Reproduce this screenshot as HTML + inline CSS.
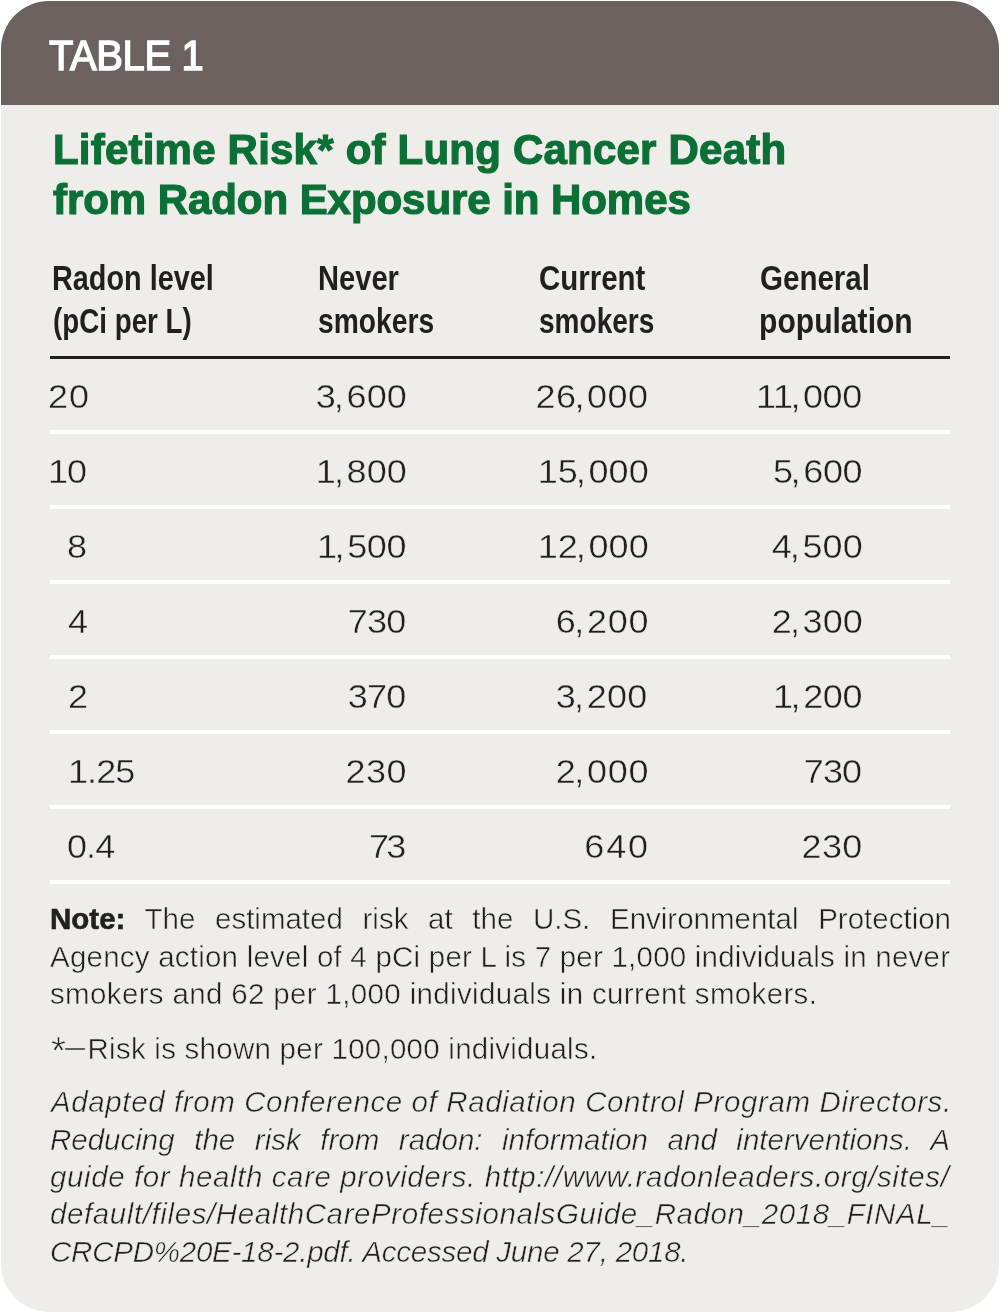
<!DOCTYPE html>
<html><head><meta charset="utf-8"><title>Table 1</title>
<style>
html,body{margin:0;padding:0}
body{width:1001px;height:1314px;background:#fff;position:relative;overflow:hidden;font-family:"Liberation Sans",sans-serif}
.card{position:absolute;left:1px;top:1px;width:998px;height:1311px;border-radius:48px;background:#eeede9;overflow:hidden}
.hdr{position:absolute;left:0;top:0;width:100%;height:104px;background:#6b625f}
.t{position:absolute;white-space:nowrap;line-height:1;transform-origin:0 0}
.r{transform-origin:100% 0}
.tab{color:#fff;font-size:43px;transform:scaleX(0.93);-webkit-text-stroke:1.5px #fff;}
.ttl{color:#0b7035;font-weight:bold;font-size:42px;-webkit-text-stroke:1.2px #0b7035;}
.ch{color:#231f20;font-weight:bold;font-size:34.5px;}
.num{color:#231f20;font-size:34px;letter-spacing:1.3px;-webkit-text-stroke:0.4px #eeede9;transform:scaleX(1.06);}
.cm{letter-spacing:2.5px;margin-left:-2px}
.rule{position:absolute;left:50px;width:900px;height:4px;background:#fff}
.note{color:#231f20;font-size:29.5px;-webkit-text-stroke:0.5px #eeede9;}
.note b{font-weight:bold;-webkit-text-stroke:0.6px #231f20;}
.src{color:#231f20;font-size:29.5px;font-style:italic;-webkit-text-stroke:0.5px #eeede9;}
.ast{display:inline-block;transform:scale(1.3);transform-origin:0 30%}
.dash{display:inline-block;transform:scaleX(.68);transform-origin:0 0;margin-right:-7px;margin-left:2px;position:relative;top:-2px}
.jl{text-align:justify;text-align-last:justify;white-space:normal}
</style></head><body>
<div class="card"><div class="hdr"></div></div>
<div style="position:absolute;left:50px;top:356px;width:900px;height:3px;background:#231f20"></div>
<div class="rule" style="top:430px"></div><div class="rule" style="top:505px"></div><div class="rule" style="top:580px"></div><div class="rule" style="top:655px"></div><div class="rule" style="top:730px"></div><div class="rule" style="top:805px"></div><div class="rule" style="top:880px"></div>
<div id="tab" class="t tab" style="left:48.6px;top:33.9px;letter-spacing:-0.426px;">TABLE 1</div>
<div id="t1" class="t ttl" style="left:53.0px;top:128.8px;letter-spacing:0.214px;">Lifetime Risk* of Lung Cancer Death</div>
<div id="t2" class="t ttl" style="left:53.0px;top:178.71px;letter-spacing:-0.06px;">from Radon Exposure in Homes</div>
<div id="h1a" class="t ch" style="left:52.0px;top:261px;transform:scaleX(0.8356);">Radon level</div>
<div id="h1b" class="t ch" style="left:53px;top:303.8px;transform:scaleX(0.8047);">(pCi per L)</div>
<div id="h2a" class="t ch" style="left:318.0px;top:261px;transform:scaleX(0.8438);">Never</div>
<div id="h2b" class="t ch" style="left:318px;top:303.8px;transform:scaleX(0.818);">smokers</div>
<div id="h3a" class="t ch" style="left:539px;top:261px;transform:scaleX(0.8537);">Current</div>
<div id="h3b" class="t ch" style="left:539px;top:303.8px;transform:scaleX(0.8129);">smokers</div>
<div id="h4a" class="t ch" style="left:760px;top:261px;transform:scaleX(0.856);">General</div>
<div id="h4b" class="t ch" style="left:759px;top:303.8px;transform:scaleX(0.8721);">population</div>
<div id="r0c1" class="t num" style="left:48.2px;top:379px;letter-spacing:1.0px;">20</div>
<div id="r0c2" class="t num r" style="right:594.0px;top:379px;letter-spacing:0.06px;">3<span class="cm">,</span>600</div>
<div id="r0c3" class="t num r" style="right:352.0px;top:379px;letter-spacing:0.404px;">26<span class="cm">,</span>000</div>
<div id="r0c4" class="t num r" style="right:139.0px;top:379px;letter-spacing:-0.444px;">11<span class="cm">,</span>000</div>
<div id="r1c1" class="t num" style="left:48.0px;top:454px;letter-spacing:-1.0px;">10</div>
<div id="r1c2" class="t num r" style="right:594.0px;top:454px;letter-spacing:0.1px;">1<span class="cm">,</span>800</div>
<div id="r1c3" class="t num r" style="right:352.0px;top:454px;letter-spacing:0.052px;">15<span class="cm">,</span>000</div>
<div id="r1c4" class="t num r" style="right:139.0px;top:454px;letter-spacing:-0.32px;">5<span class="cm">,</span>600</div>
<div id="r2c1" class="t num" style="left:67.0px;top:529px;">8</div>
<div id="r2c2" class="t num r" style="right:595.0px;top:529px;letter-spacing:-0.34px;">1<span class="cm">,</span>500</div>
<div id="r2c3" class="t num r" style="right:352.0px;top:529px;letter-spacing:0.052px;">12<span class="cm">,</span>000</div>
<div id="r2c4" class="t num r" style="right:138.0px;top:529px;letter-spacing:0.04px;">4<span class="cm">,</span>500</div>
<div id="r3c1" class="t num" style="left:68.0px;top:604px;">4</div>
<div id="r3c2" class="t num r" style="right:596.0px;top:604px;letter-spacing:-0.78px;">730</div>
<div id="r3c3" class="t num r" style="right:352.0px;top:604px;letter-spacing:0.66px;">6<span class="cm">,</span>200</div>
<div id="r3c4" class="t num r" style="right:138.0px;top:604px;letter-spacing:0.1px;">2<span class="cm">,</span>300</div>
<div id="r4c1" class="t num" style="left:67.6px;top:679px;">2</div>
<div id="r4c2" class="t num r" style="right:596.0px;top:679px;letter-spacing:-0.78px;">370</div>
<div id="r4c3" class="t num r" style="right:353.0px;top:679px;letter-spacing:0.26px;">3<span class="cm">,</span>200</div>
<div id="r4c4" class="t num r" style="right:139.0px;top:679px;letter-spacing:-0.4px;">1<span class="cm">,</span>200</div>
<div id="r5c1" class="t num" style="left:68.0px;top:754px;letter-spacing:-0.904px;">1.25</div>
<div id="r5c2" class="t num r" style="right:594.0px;top:754px;letter-spacing:0.42px;">230</div>
<div id="r5c3" class="t num r" style="right:352.0px;top:754px;letter-spacing:0.66px;">2<span class="cm">,</span>000</div>
<div id="r5c4" class="t num r" style="right:140.0px;top:754px;letter-spacing:-0.86px;">730</div>
<div id="r6c1" class="t num" style="left:67.0px;top:829px;letter-spacing:-0.9px;">0.4</div>
<div id="r6c2" class="t num r" style="right:597.0px;top:829px;letter-spacing:-2.62px;">73</div>
<div id="r6c3" class="t num r" style="right:351.0px;top:829px;letter-spacing:1.74px;">640</div>
<div id="r6c4" class="t num r" style="right:138.0px;top:829px;letter-spacing:0.34px;">230</div>
<div id="n1" class="t note jl" style="left:50.0px;top:904.11px;width:901.0px;"><b>Note:</b> The estimated risk at the U.S. Environmental Protection</div>
<div id="n2" class="t note" style="left:50.0px;top:942px;letter-spacing:0.226px;">Agency action level of 4 pCi per L is 7 per 1,000 individuals in never</div>
<div id="n3" class="t note" style="left:50px;top:978.8px;letter-spacing:0.349px;">smokers and 62 per 1,000 individuals in current smokers.</div>
<div id="n4" class="t note" style="left:51px;top:1033.5px;letter-spacing:0.256px;"><span class="ast">*</span><span class="dash">&mdash;</span>Risk is shown per 100,000 individuals.</div>
<div id="s1" class="t src" style="left:51.0px;top:1087.41px;letter-spacing:0.608px;">Adapted from Conference of Radiation Control Program Directors.</div>
<div id="s2" class="t src jl" style="left:50.0px;top:1124.8px;width:900.0px;">Reducing the risk from radon: information and interventions. A</div>
<div id="s3" class="t src" style="left:50.0px;top:1162px;letter-spacing:0.6px;">guide for health care providers. http://www.radonleaders.org/sites/</div>
<div id="s4" class="t src" style="left:50.0px;top:1198.8px;letter-spacing:0.601px;">default/files/HealthCareProfessionalsGuide_Radon_2018_FINAL_</div>
<div id="s5" class="t src" style="left:50.0px;top:1237.21px;letter-spacing:-0.232px;">CRCPD%20E-18-2.pdf. Accessed June 27, 2018.</div>
</body></html>
